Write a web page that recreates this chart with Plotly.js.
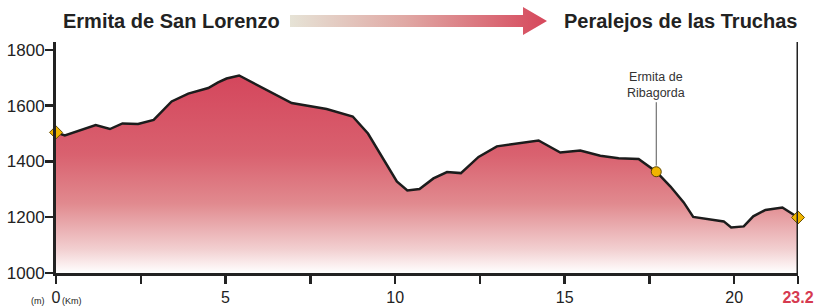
<!DOCTYPE html>
<html>
<head>
<meta charset="utf-8">
<script src="https://cdn.plot.ly/plotly-3.0.1.min.js"></script>
<style>html,body{margin:0;padding:0;background:#fff;}#chart{width:817px;height:306px;}</style>
</head>
<body>
<div id="chart"></div>
<script>
// Distance along the chart's scale (km) and elevation (m)
const distanceKm = [0, 0.26, 1.17, 1.59, 1.96, 2.42, 2.88, 3.41, 3.90, 4.49, 4.78, 5.03, 5.40, 6.95, 7.98, 8.75, 9.20, 10.05, 10.36, 10.72, 11.13, 11.53, 11.94, 12.46, 13.00, 13.49, 14.23, 14.87, 15.46, 16.05, 16.59, 17.18, 17.70, 18.12, 18.51, 18.79, 19.69, 19.91, 20.28, 20.56, 20.92, 21.42, 21.88];
const elevationM = [1504, 1493, 1530, 1516, 1536, 1534, 1549, 1615, 1643, 1663, 1683, 1697, 1708, 1609, 1588, 1561, 1500, 1328, 1296, 1301, 1339, 1362, 1358, 1416, 1454, 1462, 1475, 1432, 1439, 1420, 1411, 1409, 1363, 1310, 1253, 1201, 1185, 1163, 1167, 1203, 1226, 1235, 1199];

const endpointKm = [0, 21.88];
const endpointM = [1504, 1199];
const poiKm = [17.70];
const poiM = [1363];
const poiLabel = ['Ermita de<br>Ribagorda'];

const xTickVals = [0, 2.5, 5, 7.5, 10, 12.5, 15, 17.5, 20, 21.88];
const xTickText = ['0', '', '5', '', '10', '', '15', '', '20', '<b><span style="color:#d63a50">23.2</span></b>'];
const yTickVals = [1000, 1200, 1400, 1600, 1800];

const startName = 'Ermita de San Lorenzo';
const endName = 'Peralejos de las Truchas';

// decorative arrow outline (pixel units of the overlay axes)
const arrowX = [290, 523, 523, 547, 523, 523, 290, 290];
const arrowY = [15, 15, 7, 21, 35, 27, 27, 15];

const ink = '#222222';
const FONT = 'Liberation Sans, Arial, Helvetica, sans-serif';

const traces = [
  {
    x: distanceKm, y: elevationM, type: 'scatter', mode: 'lines',
    line: {color: '#1c1c1c', width: 2.5},
    fill: 'tozeroy',
    fillgradient: {type: 'vertical', start: 1000, stop: 1710,
      colorscale: [[0, '#ffffff'], [0.12, '#f2cfd0'], [0.35, '#e18a8f'], [0.6, '#d9616f'], [1, '#d4465c']]},
    hoverinfo: 'skip', showlegend: false
  },
  {
    x: endpointKm, y: endpointM, type: 'scatter', mode: 'markers',
    marker: {symbol: 'diamond', size: 10, color: '#f0b400', line: {color: '#6a5200', width: 1}},
    showlegend: false, cliponaxis: false
  },
  {
    x: poiKm, y: poiM, type: 'scatter', mode: 'markers',
    marker: {symbol: 'circle', size: 10, color: '#f0b400', line: {color: '#5a4400', width: 1}},
    showlegend: false, cliponaxis: false
  },
  {
    x: arrowX, y: arrowY, xaxis: 'x2', yaxis: 'y2', type: 'scatter', mode: 'none',
    fill: 'toself',
    fillgradient: {type: 'horizontal', start: 290, stop: 547,
      colorscale: [[0, '#e6e3d6'], [0.45, '#e0a8a4'], [1, '#d6475b']]},
    hoverinfo: 'skip', showlegend: false
  }
];

const mainTop = 231 / 273;

const layout = {
  width: 817, height: 306,
  margin: {l: 56, r: 19, t: 0, b: 33, pad: 0},
  paper_bgcolor: '#ffffff', plot_bgcolor: 'rgba(0,0,0,0)',
  font: {family: FONT, color: ink, size: 16},
  xaxis: {
    range: [0, 21.88], domain: [0, 1], anchor: 'y',
    tickmode: 'array', tickvals: xTickVals, ticktext: xTickText,
    ticks: 'outside', ticklen: 8, tickwidth: 2.5, tickcolor: ink,
    showline: true, linecolor: ink, linewidth: 3,
    showgrid: false, zeroline: false, ticklabelstandoff: 0,
    tickfont: {size: 16, color: ink, family: FONT}
  },
  yaxis: {
    range: [1000, 1828], domain: [0, mainTop], anchor: 'x',
    tickmode: 'array', tickvals: yTickVals,
    ticks: 'outside', ticklen: 8, tickwidth: 2.5, tickcolor: ink,
    showline: true, linecolor: ink, linewidth: 3,
    showgrid: false, zeroline: false, ticklabelstandoff: -3,
    tickfont: {size: 17, color: ink, family: FONT}
  },
  xaxis2: {range: [56, 798], domain: [0, 1], anchor: 'y2', visible: false, fixedrange: true},
  yaxis2: {range: [42, 0], domain: [mainTop, 1], anchor: 'x2', visible: false, fixedrange: true},
  shapes: [
    {type: 'line', xref: 'x', yref: 'paper', x0: 21.88, x1: 21.88, y0: 0, y1: mainTop,
     line: {color: ink, width: 3}}
  ],
  annotations: [
    {xref: 'x2', yref: 'y2', x: 282, y: 21, text: '<b>' + startName + '</b>', showarrow: false,
     xanchor: 'right', yanchor: 'middle', font: {size: 20, color: ink, family: FONT}},
    {xref: 'x2', yref: 'y2', x: 562, y: 21, text: '<b>' + endName + '</b>', showarrow: false,
     xanchor: 'left', yanchor: 'middle', font: {size: 20, color: ink, family: FONT}},
    {xref: 'x', yref: 'y', x: poiKm[0], y: poiM[0], text: poiLabel[0], showarrow: true,
     arrowhead: 0, arrowwidth: 1, arrowcolor: '#555555', ax: 0, ay: -87, standoff: 6,
     font: {size: 12.5, color: '#333333', family: FONT}, align: 'center', borderpad: 2},
    {xref: 'paper', yref: 'paper', x: (38 - 56) / 742, y: (273 - 301) / 273, text: '(m)', showarrow: false,
     xanchor: 'center', yanchor: 'middle', font: {size: 9, color: ink, family: FONT}},
    {xref: 'paper', yref: 'paper', x: (72 - 56) / 742, y: (273 - 301) / 273, text: '(Km)', showarrow: false,
     xanchor: 'center', yanchor: 'middle', font: {size: 9, color: ink, family: FONT}}
  ]
};

Plotly.newPlot('chart', traces, layout, {staticPlot: true, displayModeBar: false});
</script>
</body>
</html>
